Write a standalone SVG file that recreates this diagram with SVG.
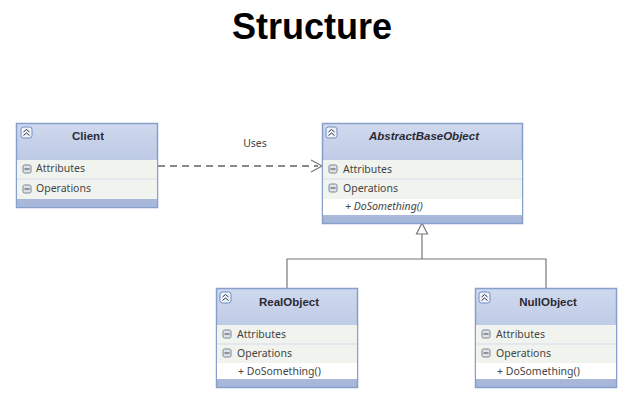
<svg xmlns="http://www.w3.org/2000/svg" width="630" height="406" viewBox="0 0 630 406">
<style>
text{font-family:"Liberation Sans",Arial,sans-serif;fill:#333}
.title{font-size:36px;font-weight:bold;fill:#000;text-anchor:middle}
.name{font-size:11.500px;font-weight:bold;fill:#2a2a35;text-anchor:middle}
.row{font-family:"Noto Sans","Liberation Sans",sans-serif;font-size:10.500px;fill:#444}
.box{fill:#a9b8da;stroke:#86a0cb;stroke-width:1.500}
.sec{fill:#f1f4ee}
.sep{stroke:#dfe5ee;stroke-width:1.500}
.ic{fill:#dde2e8;stroke:#7b8694;stroke-width:1}
.mi{stroke:#444;stroke-width:1}
.ch{fill:#eef3fb;stroke:#6f8dbf;stroke-width:1}
.chv{fill:none;stroke:#334;stroke-width:1}
.c{fill:none;stroke:#777;stroke-width:1.200}
</style>
<defs>
<linearGradient id="h" x1="0" y1="0" x2="0" y2="1"><stop offset="0" stop-color="#cfd9ee"/><stop offset="1" stop-color="#a6b6d8"/></linearGradient>
<g id="tg"><rect class="ch" x="0" y="0" width="11" height="11" rx="2.500"/><path class="chv" d="M2.500 5 L5.500 2.500 L8.500 5 M2.500 8.500 L5.500 6 L8.500 8.500"/></g>
<g id="mn"><rect class="ic" x="0" y="0" width="8" height="8" rx="1.500"/><path class="mi" d="M1.500 4H6.500"/></g>
</defs>
<text class="title" x="312" y="39">Structure</text>
<g id="connectors">
<path d="M158 166H318" fill="none" stroke="#888" stroke-width="2.200" stroke-dasharray="7 5"/>
<path class="c" d="M311 160L322 166L311 172"/>
<path class="c" d="M422 234V259M287 288V259H546V288"/>
<path d="M422 223L427.500 234H416.500Z" fill="#fff" stroke="#777" stroke-width="1.200"/>
<text class="row" x="255" y="147" text-anchor="middle">Uses</text>
</g>
<g id="client">
<rect class="box" x="16.500" y="123.500" width="141" height="84" style="fill:url(#h)"/>
<rect class="sec" x="17" y="160" width="140" height="39"/><path class="sep" d="M17 179H157"/>
<rect x="17" y="199" width="140" height="8" fill="#a9b8da"/>
<use href="#tg" x="21" y="127"/><text class="name" x="88" y="140">Client</text>
<use href="#mn" x="23" y="165"/><text class="row" x="36" y="172">Attributes</text>
<use href="#mn" x="23" y="185"/><text class="row" x="36" y="192">Operations</text>
</g>
<g id="abstractbaseobject">
<rect class="box" x="322.500" y="123.500" width="200" height="100" style="fill:url(#h)"/>
<rect class="sec" x="323" y="160" width="199" height="39"/><path class="sep" d="M323 179H522"/>
<rect x="323" y="199" width="199" height="16" fill="#fff"/>
<use href="#tg" x="326" y="127"/><text class="name" x="424" y="140" font-style="italic">AbstractBaseObject</text>
<use href="#mn" x="329" y="165"/><text class="row" x="343" y="173">Attributes</text>
<use href="#mn" x="329" y="184"/><text class="row" x="343" y="192">Operations</text>
<text class="row" x="345" y="210" font-style="italic">+ DoSomething()</text>
</g>
<g id="realobject">
<rect class="box" x="216.500" y="288.500" width="141" height="99" style="fill:url(#h)"/>
<rect class="sec" x="217" y="325" width="140" height="38"/><path class="sep" d="M217 344H357"/>
<rect x="217" y="363" width="140" height="16" fill="#fff"/>
<use href="#tg" x="220" y="292"/><text class="name" x="289" y="306">RealObject</text>
<use href="#mn" x="223" y="330"/><text class="row" x="237" y="338">Attributes</text>
<use href="#mn" x="223" y="349"/><text class="row" x="237" y="357">Operations</text>
<text class="row" x="238" y="375">+ DoSomething()</text>
</g>
<g id="nullobject">
<rect class="box" x="475.500" y="288.500" width="141" height="99" style="fill:url(#h)"/>
<rect class="sec" x="476" y="325" width="140" height="38"/><path class="sep" d="M476 344H616"/>
<rect x="476" y="363" width="140" height="16" fill="#fff"/>
<use href="#tg" x="479" y="292"/><text class="name" x="548" y="306">NullObject</text>
<use href="#mn" x="482" y="330"/><text class="row" x="496" y="338">Attributes</text>
<use href="#mn" x="482" y="349"/><text class="row" x="496" y="357">Operations</text>
<text class="row" x="497" y="375">+ DoSomething()</text>
</g>
</svg>
